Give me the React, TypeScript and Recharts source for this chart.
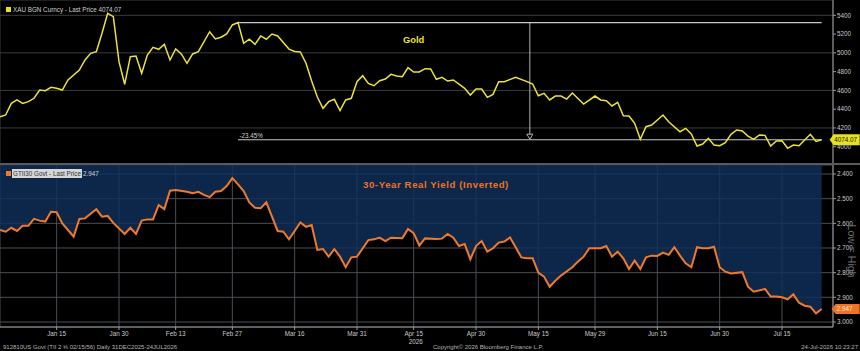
import React from 'react';
import {
  LineChart,
  Line,
  AreaChart,
  Area,
  XAxis,
  YAxis,
  CartesianGrid,
  ReferenceLine,
  ReferenceDot,
} from 'recharts';

// Trading-day index (0 = 31 Dec 2025) for the date ticks
const xTickDays = [10, 21, 31, 41, 52, 63, 73, 84, 95, 105, 116, 127, 138];
const xTickLabels = [
  'Jan 15', 'Jan 30', 'Feb 13', 'Feb 27', 'Mar 16', 'Mar 31', 'Apr 15',
  'Apr 30', 'May 15', 'May 29', 'Jun 15', 'Jun 30', 'Jul 15',
];
const yearTickLabel = 'Apr 15';
const yearLabel = '2026';

// XAU BGN Curncy closes
const goldDays = [
  0, 1, 2, 3, 4, 5, 6, 7, 8, 9, 10, 11, 12, 14, 15, 16, 17, 18, 19, 20,
  21, 22, 23, 24, 25, 26, 27, 28, 29, 30, 31, 32, 33, 34, 35, 37, 38, 39, 40, 41,
  42, 43, 44, 45, 46, 47, 48, 49, 50, 51, 52, 53, 54, 55, 56, 57, 58, 59, 60, 61,
  62, 63, 64, 65, 66, 67, 68, 69, 70, 71, 72, 73, 74, 75, 76, 77, 78, 79, 80, 82,
  83, 84, 85, 86, 87, 88, 89, 91, 93, 94, 95, 96, 97, 98, 99, 100, 101, 103, 105, 106,
  107, 108, 109, 110, 111, 112, 113, 114, 115, 117, 118, 120, 121, 122, 123, 124, 125, 126, 127, 128,
  129, 130, 131, 132, 133, 134, 135, 136, 137, 138, 139, 140, 141, 142, 143, 144, 145,
];
const goldPrices = [
  4320, 4338, 4462, 4498, 4462, 4480, 4516, 4604, 4597, 4633, 4622, 4604, 4711, 4817, 4924, 4995, 5012, 5208, 5421, 5386,
  4906, 4665, 4959, 4966, 4782, 4977, 5059, 5038, 5091, 4924, 5041, 4988, 4889, 4988, 5012, 5225, 5148, 5166, 5201, 5297,
  5322, 5102, 5145, 5091, 5180, 5145, 5201, 5180, 5110, 5040, 5015, 5010, 4889, 4700, 4530, 4409, 4480, 4505, 4384, 4498,
  4516, 4693, 4756, 4675, 4650, 4703, 4721, 4771, 4753, 4746, 4842, 4796, 4796, 4831, 4828, 4718, 4739, 4700, 4711, 4622,
  4551, 4615, 4615, 4526, 4558, 4693, 4693, 4739, 4693, 4668, 4543, 4569, 4498, 4540, 4540, 4508, 4572, 4455, 4540, 4498,
  4490, 4434, 4473, 4330, 4327, 4249, 4079, 4213, 4231, 4338, 4266, 4160, 4196, 4135, 4007, 4029, 4089, 4018, 4011, 4043,
  4132, 4178, 4167, 4114, 4079, 4125, 4121, 4007, 4061, 4064, 3983, 4018, 4011, 4071, 4132, 4057, 4074.07,
];

// GTII30 Govt (30-year TIPS real yield, %)
const yieldDays = [
  0, 1, 2, 3, 4, 5, 6, 7, 8, 9, 10, 11, 13, 14, 15, 17, 18, 19, 20, 22,
  23, 24, 25, 26, 27, 28, 29, 30, 31, 33, 34, 35, 36, 37, 38, 39, 40, 41, 42, 43,
  44, 45, 46, 47, 49, 50, 51, 52, 53, 54, 55, 56, 57, 58, 59, 60, 61, 62, 63, 65,
  66, 67, 68, 69, 71, 72, 73, 74, 75, 77, 78, 79, 80, 81, 82, 83, 84, 85, 86, 87,
  88, 89, 90, 91, 92, 93, 94, 95, 96, 97, 98, 99, 101, 102, 103, 104, 106, 107, 108, 109,
  110, 111, 112, 113, 114, 115, 116, 117, 118, 119, 120, 121, 122, 123, 124, 125, 126, 127, 128, 129,
  131, 132, 133, 135, 136, 137, 138, 139, 140, 141, 142, 143, 144, 145,
];
const realYields = [
  2.627, 2.634, 2.618, 2.631, 2.61, 2.61, 2.582, 2.589, 2.593, 2.553, 2.555, 2.6, 2.654, 2.582, 2.58, 2.543, 2.573, 2.57, 2.598, 2.643,
  2.618, 2.643, 2.589, 2.584, 2.584, 2.526, 2.542, 2.468, 2.465, 2.472, 2.478, 2.472, 2.485, 2.494, 2.472, 2.469, 2.449, 2.417, 2.442, 2.469,
  2.515, 2.537, 2.539, 2.515, 2.631, 2.634, 2.665, 2.631, 2.596, 2.614, 2.607, 2.708, 2.704, 2.735, 2.705, 2.735, 2.778, 2.738, 2.735, 2.668,
  2.665, 2.658, 2.672, 2.658, 2.66, 2.623, 2.64, 2.69, 2.661, 2.664, 2.662, 2.643, 2.658, 2.692, 2.684, 2.746, 2.692, 2.672, 2.715, 2.701,
  2.678, 2.674, 2.657, 2.697, 2.738, 2.742, 2.742, 2.8, 2.816, 2.857, 2.833, 2.812, 2.778, 2.755, 2.735, 2.701, 2.701, 2.692, 2.735, 2.715,
  2.742, 2.785, 2.751, 2.785, 2.738, 2.731, 2.732, 2.719, 2.728, 2.697, 2.731, 2.762, 2.778, 2.697, 2.701, 2.701, 2.695, 2.778, 2.796, 2.803,
  2.798, 2.857, 2.877, 2.866, 2.897, 2.897, 2.9, 2.908, 2.888, 2.922, 2.934, 2.938, 2.965, 2.947,
];

const goldTicks = [4000, 4200, 4400, 4600, 4800, 5000, 5200, 5400];
const yieldTicks = [2.4, 2.5, 2.6, 2.7, 2.8, 2.9, 3.0];

// Drawdown annotation: from the late-February high to the last price
const goldHigh = 5322;
const annotationStartDay = 42;
const arrowDay = 93.5;

const goldData = goldDays.map((day, i) => ({ day, price: goldPrices[i] }));
const yieldData = yieldDays.map((day, i) => ({ day, y: realYields[i] }));
const lastDay = goldDays[goldDays.length - 1];
const lastGold = goldPrices[goldPrices.length - 1];
const lastYield = realYields[realYields.length - 1];
const lastYieldDay = yieldDays[yieldDays.length - 1];
const drawdownText = `${((lastGold / goldHigh - 1) * 100).toFixed(2)}%`;

const X_DOMAIN: [number, number] = [0, 147];
const GOLD_DOMAIN: [number, number] = [3816, 5563];
const YIELD_DOMAIN: [number, number] = [2.3635, 3.0203];

const FONT = '"Liberation Sans", Arial, sans-serif';
const GOLD = '#ebe33a';
const ORANGE = '#f07a2c';
const GRID = '#3c3c3c';
const AXIS = '#9a9a9a';
const TICK_TEXT = '#c9c9c9';

const XTick = (props: any) => {
  const { x, y, payload } = props;
  const i = xTickDays.indexOf(payload.value);
  const label = xTickLabels[i] ?? '';
  return (
    <g>
      <text x={x} y={y + 4} textAnchor="middle" fill={TICK_TEXT} fontSize={6.3} fontFamily={FONT}>
        {label}
      </text>
      {label === yearTickLabel && (
        <text x={x + 2} y={y + 12} textAnchor="middle" fill={TICK_TEXT} fontSize={6.3} fontFamily={FONT}>
          {yearLabel}
        </text>
      )}
    </g>
  );
};

const GoldTag = (props: any) => {
  const { cx, cy } = props;
  const x0 = cx + 8;
  return (
    <g>
      <path
        d={`M${x0} ${cy} L${x0 + 4} ${cy - 5.5} L${x0 + 30} ${cy - 5.5} L${x0 + 30} ${cy + 5.5} L${x0 + 4} ${cy + 5.5} Z`}
        fill="#e8e21e"
      />
      <text x={x0 + 4.5} y={cy + 2.3} fill="#111" fontSize={6.3} fontFamily={FONT}>
        {lastGold.toFixed(2)}
      </text>
    </g>
  );
};

const YieldTag = (props: any) => {
  const { cx, cy } = props;
  const x0 = cx + 10;
  return (
    <g>
      <path
        d={`M${x0} ${cy} L${x0 + 4} ${cy - 5} L${x0 + 28} ${cy - 5} L${x0 + 28} ${cy + 5} L${x0 + 4} ${cy + 5} Z`}
        fill="#f07424"
      />
      <text x={x0 + 5} y={cy + 2.2} fill="#fde8d8" fontSize={6.3} fontFamily={FONT}>
        {lastYield.toFixed(3)}
      </text>
    </g>
  );
};

const ArrowHead = (props: any) => {
  const { cx, cy } = props;
  return (
    <path
      d={`M${cx - 3} ${cy - 3} L${cx + 3} ${cy - 3} L${cx} ${cy + 2} Z`}
      fill="#000"
      stroke="#c8c8c8"
      strokeWidth={0.9}
    />
  );
};

const txt = (extra: React.CSSProperties): React.CSSProperties => ({
  position: 'absolute',
  fontFamily: FONT,
  whiteSpace: 'nowrap',
  lineHeight: 1,
  ...extra,
});

export default function App() {
  return (
    <div
      style={{
        position: 'fixed',
        left: 0,
        top: 0,
        width: 860,
        height: 351,
        background: '#000',
        overflow: 'hidden',
      }}
    >
      {/* Gold panel */}
      <div style={{ position: 'absolute', left: 0, top: 0 }}>
        <LineChart
          width={860}
          height={164}
          data={goldData}
          margin={{ top: 0, right: 0, bottom: 0, left: 0 }}
        >
          <CartesianGrid stroke={GRID} strokeWidth={1} />
          <XAxis
            type="number"
            dataKey="day"
            domain={X_DOMAIN}
            ticks={xTickDays}
            height={0}
            tick={false}
            tickLine={false}
            axisLine={false}
            allowDataOverflow
          />
          <YAxis
            orientation="right"
            domain={GOLD_DOMAIN}
            ticks={goldTicks}
            width={27}
            allowDataOverflow
            tickSize={3}
            tickMargin={1}
            axisLine={{ stroke: AXIS }}
            tickLine={{ stroke: AXIS }}
            tick={{ fill: TICK_TEXT, fontSize: 6.3, fontFamily: FONT, textAnchor: 'start' }}
          />
          <ReferenceLine
            segment={[
              { x: annotationStartDay, y: goldHigh },
              { x: lastDay, y: goldHigh },
            ]}
            stroke="#c8c8c8"
            strokeWidth={1.2}
          />
          <ReferenceLine
            segment={[
              { x: annotationStartDay, y: lastGold },
              { x: lastDay, y: lastGold },
            ]}
            stroke="#c8c8c8"
            strokeWidth={1.2}
            label={{
              value: drawdownText,
              position: 'insideBottomLeft',
              offset: 1.5,
              fill: '#d0d0d0',
              fontSize: 6.3,
              fontFamily: FONT,
            }}
          />
          <ReferenceLine
            segment={[
              { x: arrowDay, y: goldHigh },
              { x: arrowDay, y: lastGold + 25 },
            ]}
            stroke="#c8c8c8"
            strokeWidth={0.9}
          />
          <ReferenceDot x={arrowDay} y={lastGold + 28} r={3} shape={ArrowHead} ifOverflow="visible" />
          <Line
            type="linear"
            dataKey="price"
            stroke={GOLD}
            strokeWidth={1.5}
            dot={false}
            activeDot={false}
            isAnimationActive={false}
          />
          <ReferenceDot x={lastDay} y={lastGold} r={3} shape={GoldTag} ifOverflow="visible" />
        </LineChart>
      </div>

      {/* panel divider */}
      <div style={{ position: 'absolute', left: 0, top: 163, width: 860, height: 2, background: '#5a5a5a' }} />

      {/* Real-yield panel (inverted axis) */}
      <div style={{ position: 'absolute', left: 0, top: 165 }}>
        <AreaChart
          width={860}
          height={186}
          data={yieldData}
          margin={{ top: 0, right: 0, bottom: 0, left: 0 }}
        >
          <CartesianGrid stroke="#4a4e55" strokeWidth={1} />
          <XAxis
            type="number"
            dataKey="day"
            domain={X_DOMAIN}
            ticks={xTickDays}
            height={24}
            allowDataOverflow
            tickSize={3}
            tickMargin={2}
            axisLine={{ stroke: AXIS }}
            tickLine={{ stroke: AXIS }}
            tick={<XTick />}
          />
          <YAxis
            orientation="right"
            domain={YIELD_DOMAIN}
            reversed
            ticks={yieldTicks}
            width={27}
            allowDataOverflow
            tickSize={3}
            tickMargin={1}
            tickFormatter={(v: number) => v.toFixed(3)}
            axisLine={{ stroke: AXIS }}
            tickLine={{ stroke: AXIS }}
            tick={{ fill: TICK_TEXT, fontSize: 6.3, fontFamily: FONT, textAnchor: 'start' }}
          />
          <Area
            type="linear"
            dataKey="y"
            baseValue={YIELD_DOMAIN[0]}
            stroke={ORANGE}
            strokeWidth={2}
            fill="#10305a"
            fillOpacity={0.82}
            dot={false}
            activeDot={false}
            isAnimationActive={false}
          />
          <ReferenceDot x={lastYieldDay} y={lastYield} r={3} shape={YieldTag} ifOverflow="visible" />
        </AreaChart>
      </div>

      {/* legends */}
      <div style={{ position: 'absolute', left: 6, top: 7, width: 5, height: 5, background: '#e8e21e' }} />
      <div style={txt({ left: 13, top: 6.5, fontSize: 6.3, color: '#d0d0d0' })}>
        XAU BGN Curncy - Last Price {lastGold.toFixed(2)}
      </div>
      <div style={{ position: 'absolute', left: 6, top: 171, width: 5, height: 5, background: ORANGE }} />
      <div style={txt({ left: 12, top: 169, height: 9, width: 70, background: '#d6d6d6' })} />
      <div style={txt({ left: 13, top: 170.5, fontSize: 6.3, color: '#333' })}>GTII30 Govt - Last Price</div>
      <div style={txt({ left: 83, top: 170.5, fontSize: 6.3, color: '#d0d0d0' })}>{lastYield.toFixed(3)}</div>

      {/* panel titles */}
      <div style={txt({ left: 403, top: 34.5, fontSize: 9.4, fontWeight: 700, color: GOLD })}>Gold</div>
      <div
        style={txt({
          left: 363,
          top: 180,
          fontSize: 9.6,
          fontWeight: 700,
          letterSpacing: 0.6,
          color: '#e8732a',
        })}
      >
        30-Year Real Yield (Inverted)
      </div>

      {/* inverted-axis note */}
      <div
        style={txt({
          left: 852,
          top: 251,
          fontSize: 10.5,
          color: '#707070',
          transform: 'translate(-50%, -50%) rotate(90deg)',
        })}
      >
        Low = High
      </div>

      {/* footer */}
      <div style={txt({ left: 3, top: 344, fontSize: 6, color: '#b4b4b4' })}>
        912810US Govt (TII 2 ⅜ 02/15/56) Daily 31DEC2025-24JUL2026
      </div>
      <div style={txt({ left: 433, top: 344, fontSize: 6, color: '#b4b4b4' })}>
        Copyright© 2026 Bloomberg Finance L.P.
      </div>
      <div style={txt({ right: 2, top: 344, fontSize: 6, color: '#b4b4b4' })}>24-Jul-2026 10:23:27</div>
    </div>
  );
}
